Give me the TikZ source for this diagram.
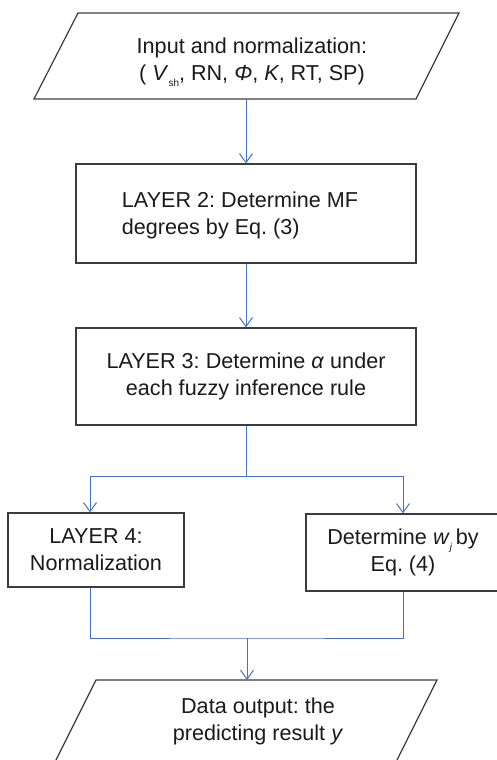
\documentclass[tikz,border=0pt]{standalone}
\usepackage{fontspec}
\setmainfont{Liberation Sans}
\usetikzlibrary{arrows.meta}
\definecolor{lineblue}{RGB}{68,114,196}
\definecolor{boxgray}{RGB}{60,60,60}
\definecolor{txtc}{RGB}{26,26,26}
\newcommand{\smallsub}[1]{\raisebox{-0.55ex}{\fontsize{10}{10}\selectfont #1}}
\frenchspacing
\begin{document}
\begin{tikzpicture}[x=1pt,y=-1pt,
  stepbox/.style={draw=boxgray, line width=1.2pt, rectangle, inner sep=0pt},
  boxline/.style={draw=boxgray, line width=1.2pt, line join=miter},
  txt/.style={text=txtc, font=\fontsize{21.6}{27}\selectfont\frenchspacing, align=center, inner sep=0pt},
  conn/.style={draw=lineblue, line width=1pt},
  arr/.style={conn, -{Straight Barb[length=9pt,width=13pt]}}]
\useasboundingbox (0,0) rectangle (497,760);

% input parallelogram
\draw[boxline] (78,13) -- (459,13) -- (416,99) -- (34,99) -- cycle;
\coordinate (inb) at (246,99);
\node[txt] (in) at (252,62) {Input and normalization:\\( \textit{V}\smallsub{sh}, RN, \textit{Φ}, \textit{K}, RT, SP)};

% layer 2
\node[stepbox, minimum width=340pt, minimum height=99pt] (l2) at (246,213.5) {};
\node[txt, align=left] (l2t) at (240,215) {LAYER 2: Determine MF\\ degrees by Eq. (3)};

% layer 3
\node[stepbox, txt, minimum width=340pt, minimum height=97pt] (l3) at (246,376.5) {LAYER 3: Determine \textit{α} under\\each fuzzy inference rule};

% layer 4
\node[stepbox, txt, minimum width=176pt, minimum height=74pt] (l4) at (96,550) {LAYER 4:\\Normalization};

% determine w
\node[stepbox, txt, minimum width=194pt, minimum height=77pt] (l5) at (403,552.5) {Determine \textit{w}\smallsub{\textit{j}}\,by\\Eq. (4)};

% output parallelogram
\draw[boxline] (96,680) -- (437,680) -- (394,766) -- (53,766) -- cycle;
\coordinate (outt) at (247,680);
\node[txt] (out) at (258,721) {Data output: the\\predicting result \textit{y}};

% connectors
\draw[arr] (inb) -- (l2.north);
\draw[arr] (l2.south) -- (l3.north);
\coordinate (split) at (246,476);
\draw[conn] (l3.south) -- (split);
\draw[arr] (split) -| ([xshift=-6pt]l4.north);
\draw[arr] (split) -| (l5.north);
\coordinate (join) at (247,638);
\draw[conn] ([xshift=-6pt]l4.south) |- (join) -| (l5.south);
\draw[arr] (join) -- (outt);
\end{tikzpicture}
\end{document}
